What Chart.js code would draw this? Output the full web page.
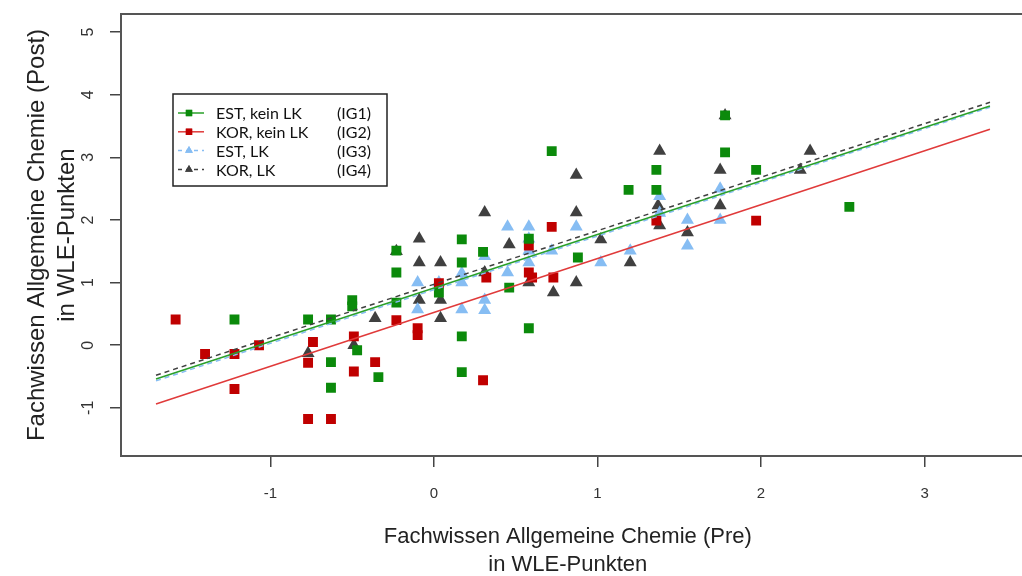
<!DOCTYPE html>
<html>
<head>
<meta charset="utf-8">
<script src="https://cdn.jsdelivr.net/npm/chart.js@4.4.0/dist/chart.umd.min.js"></script>
<style>
  html, body { margin: 0; padding: 0; background: #fff; }
  #wrap { width: 1022px; height: 576px; }
</style>
</head>
<body>
<div id="wrap"><canvas id="myChart"></canvas></div>
<script>
// tick labels
const xTicks = [-1, 0, 1, 2, 3]
const yTicks = [-1, 0, 1, 2, 3, 4, 5]

// IG1: EST, kein LK
const ig1X = [-1.22, -0.77, -0.63, -0.63, -0.63, -0.50, -0.50, -0.47, -0.34, -0.23, -0.23, -0.23, 0.03, 0.17, 0.17, 0.17, 0.17, 0.30, 0.46, 0.58, 0.58, 0.72, 0.88, 1.19, 1.36, 1.36, 1.78, 1.78, 1.97, 2.54]
const ig1Y = [0.41, 0.41, 0.41, -0.27, -0.68, 0.72, 0.62, -0.08, -0.51, 1.16, 1.51, 0.68, 0.84, 1.69, 1.32, 0.14, -0.43, 1.49, 0.92, 1.70, 0.27, 3.10, 1.40, 2.48, 2.80, 2.48, 3.08, 3.67, 2.80, 2.21]

// IG2: KOR, kein LK
const ig2X = [-1.58, -1.40, -1.22, -1.22, -1.07, -0.74, -0.77, -0.77, -0.63, -0.49, -0.49, -0.36, -0.23, -0.10, -0.10, 0.03, 0.30, 0.32, 0.58, 0.58, 0.60, 0.72, 0.73, 1.36, 1.97]
const ig2Y = [0.41, -0.14, -0.14, -0.70, 0.00, 0.05, -0.28, -1.18, -1.18, 0.14, -0.42, -0.27, 0.40, 0.27, 0.16, 0.99, -0.56, 1.08, 1.59, 1.16, 1.08, 1.89, 1.08, 1.99, 1.99]

// IG3: EST, LK
const ig3X = [-0.10, -0.10, 0.03, 0.17, 0.17, 0.17, 0.31, 0.31, 0.31, 0.45, 0.45, 0.58, 0.58, 0.58, 0.58, 0.72, 0.87, 1.02, 1.20, 1.38, 1.38, 1.55, 1.55, 1.75, 1.75]
const ig3Y = [1.00, 0.57, 1.00, 1.15, 1.00, 0.57, 1.42, 0.72, 0.56, 1.89, 1.16, 1.89, 1.70, 1.51, 1.32, 1.51, 1.89, 1.32, 1.51, 2.38, 2.11, 2.00, 1.59, 2.50, 2.00]

// IG4: KOR, LK
const ig4X = [-0.77, -0.49, -0.36, -0.23, -0.09, -0.09, -0.09, 0.04, 0.04, 0.04, 0.31, 0.31, 0.46, 0.58, 0.73, 0.87, 0.87, 0.87, 1.02, 1.20, 1.38, 1.37, 1.38, 1.55, 1.75, 1.75, 1.78, 2.24, 2.30]
const ig4Y = [-0.13, 0.00, 0.43, 1.50, 1.70, 1.32, 0.72, 1.32, 0.72, 0.43, 2.12, 1.16, 1.61, 1.00, 0.84, 2.72, 2.12, 1.00, 1.69, 1.32, 3.10, 2.23, 1.91, 1.80, 2.80, 2.23, 3.67, 2.80, 3.10]

// regression lines (end points)
const lineX = [-1.70, 3.40]
const line1Y = [-0.54, 3.82]
const line2Y = [-0.94, 3.45]
const line3Y = [-0.57, 3.80]
const line4Y = [-0.48, 3.88]

const groupNames = ["EST, kein LK", "KOR, kein LK", "EST, LK", "KOR, LK"]
const groupCodes = ["(IG1)", "(IG2)", "(IG3)", "(IG4)"]

const pts = (xs, ys) => xs.map((x, i) => ({x: x, y: ys[i]}))

const green = "#0b8a0b", red = "#c00000", blue = "#86bdf3", dark = "#404040"
const greenLine = "#2aa02a", redLine = "#e03a3a"

function lineSet(ys, color, dash) {
    return {
        data: pts(lineX, ys),
        showLine: true,
        borderColor: color,
        borderWidth: 1.5,
        borderDash: dash,
        pointRadius: 0,
        fill: false
    }
}
function pointSet(xs, ys, color, style) {
    return {
        data: pts(xs, ys),
        showLine: false,
        pointStyle: style,
        pointRadius: style === "rect" ? 7 : 7.5,
        backgroundColor: color,
        borderColor: color,
        borderWidth: 0
    }
}

// box around plot, y tick labels and the legend
const extras = {
    id: "extras",
    afterDatasetsDraw(chart) {
        const ctx = chart.ctx
        const a = chart.chartArea
        ctx.save()
        // box runs off the right edge like in the cropped original
        ctx.strokeStyle = "#555"
        ctx.lineWidth = 2
        ctx.beginPath()
        ctx.moveTo(chart.width + 5, a.top)
        ctx.lineTo(a.left, a.top)
        ctx.lineTo(a.left, a.bottom)
        ctx.lineTo(chart.width + 5, a.bottom)
        ctx.stroke()

        // y tick labels, rotated like R
        const ys = chart.scales.y
        ctx.fillStyle = "#333"
        ctx.font = "16px 'Liberation Sans', Arial, sans-serif"
        ctx.textAlign = "center"
        ctx.textBaseline = "middle"
        yTicks.forEach(v => {
            const py = ys.getPixelForValue(v)
            ctx.save()
            ctx.translate(89, py)
            ctx.rotate(-Math.PI / 2)
            ctx.fillText(String(v), 0, 0)
            ctx.restore()
        })

        // legend
        const lx = 173, ly = 94, lw = 214, lh = 92
        ctx.fillStyle = "#fff"
        ctx.fillRect(lx, ly, lw, lh)
        ctx.strokeStyle = "#222"
        ctx.lineWidth = 1.5
        ctx.strokeRect(lx, ly, lw, lh)
        const cols = [green, red, blue, dark]
        const lcols = [greenLine, redLine, blue, dark]
        const dashes = [[], [], [4, 4], [4, 4]]
        const styles = ["rect", "rect", "triangle", "triangle"]
        ctx.font = "16px Lato, 'Open Sans', sans-serif"
        ctx.textAlign = "left"
        for (let i = 0; i < 4; i++) {
            const ry = ly + 19 + i * 18.8
            ctx.strokeStyle = lcols[i]
            ctx.lineWidth = 1.5
            ctx.setLineDash(dashes[i])
            ctx.beginPath()
            ctx.moveTo(lx + 5, ry)
            ctx.lineTo(lx + 31, ry)
            ctx.stroke()
            ctx.setLineDash([])
            ctx.fillStyle = cols[i]
            Chart.helpers.drawPoint(ctx, {pointStyle: styles[i], radius: 4.5, borderWidth: 0, rotation: 0}, lx + 16, ry)
            ctx.fill()
            ctx.fillStyle = "#111"
            ctx.fillText(groupNames[i], lx + 43, ry + 1)
            ctx.fillText(groupCodes[i], lx + 164, ry + 1)
        }
        ctx.restore()
    }
}

const ctx = document.getElementById("myChart")

const config = {
    type: "scatter",
    data: {
        datasets: [
            lineSet(line1Y, greenLine, []),
            lineSet(line2Y, redLine, []),
            lineSet(line3Y, blue, [5, 4]),
            lineSet(line4Y, dark, [5, 4]),
            pointSet(ig1X, ig1Y, green, "rect"),
            pointSet(ig2X, ig2Y, red, "rect"),
            pointSet(ig3X, ig3Y, blue, "triangle"),
            pointSet(ig4X, ig4Y, dark, "triangle")
        ]
    },
    options: {
        responsive: true,
        maintainAspectRatio: false,
        animation: false,
        layout: {padding: {top: 14, right: 1, left: 0, bottom: 0}},
        plugins: {legend: {display: false}, tooltip: {enabled: false}},
        scales: {
            x: {
                type: "linear",
                min: -1.914,
                max: 3.55,
                afterBuildTicks: s => { s.ticks = xTicks.map(v => ({value: v})) },
                afterFit: s => { s.height = 120 },
                grid: {drawOnChartArea: false, drawTicks: true, tickLength: 11, color: "#444", lineWidth: 1.5},
                border: {display: false},
                ticks: {
                    color: "#333",
                    padding: 18,
                    maxRotation: 0,
                    font: {family: "'Liberation Sans', Arial, sans-serif", size: 15}
                },
                title: {
                    display: true,
                    text: ["Fachwissen Allgemeine Chemie (Pre)", "in WLE-Punkten"],
                    color: "#222",
                    padding: {top: 0, bottom: -3},
                    font: {family: "'Liberation Sans', Arial, sans-serif", size: 22, lineHeight: "28px"}
                }
            },
            y: {
                type: "linear",
                min: -1.77,
                max: 5.29,
                afterBuildTicks: s => { s.ticks = yTicks.map(v => ({value: v})) },
                afterFit: s => { s.width = 121 },
                grid: {drawOnChartArea: false, drawTicks: true, tickLength: 11, color: "#444", lineWidth: 1.5},
                border: {display: false},
                ticks: {display: false},
                title: {
                    display: true,
                    text: ["Fachwissen Allgemeine Chemie (Post)", "in WLE-Punkten"],
                    color: "#222",
                    padding: {top: 22, bottom: 0},
                    font: {family: "'Liberation Sans', Arial, sans-serif", size: 24, lineHeight: "30px"}
                }
            }
        }
    },
    plugins: [extras]
}

const myChart = new Chart(ctx, config)
</script>
</body>
</html>
